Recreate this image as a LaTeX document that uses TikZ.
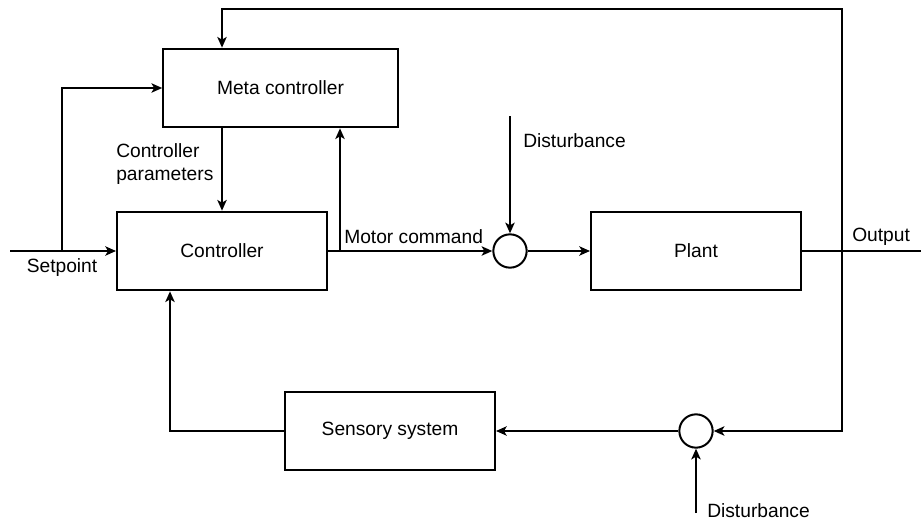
\documentclass[tikz,border=0pt]{standalone}
\usepackage{fontspec}
\setmainfont{Liberation Sans}
\usetikzlibrary{arrows.meta}
\begin{document}
\begin{tikzpicture}[x=0.75pt,y=-0.75pt,
  every node/.style={font=\fontsize{14.4}{17}\selectfont},
  blk/.style={draw,line width=1.5pt,minimum width=157.5pt,minimum height=59pt,inner sep=0pt},
  sumc/.style={draw,circle,line width=1.5pt,minimum size=25pt,inner sep=0pt},
  wire/.style={line width=1.5pt},
  arr/.style={wire,-{Stealth[length=8pt,width=7pt,inset=2pt]}},
  lbl/.style={inner sep=0pt}
]
\useasboundingbox (0,0) rectangle (921,521);
% blocks
\node[blk,minimum width=176pt] (meta) at (280.5,88) {Meta controller};
\node[blk] (ctrl) at (222,251) {Controller};
\node[blk] (plant) at (696,251) {Plant};
\node[blk] (sens) at (390,431) {Sensory system};
\node[sumc] (s1) at (510,251) {};
\node[sumc] (s2) at (696,431) {};
% coordinates
\coordinate (spin) at (10,251);
\coordinate (spb) at (62,251);
\coordinate (spu) at (62,88);
\coordinate (mb) at (340,251);
\coordinate (d1) at (510,116);
\coordinate (out) at (921,251);
\coordinate (ob) at (842,251);
\coordinate (otop) at (842,9);
\coordinate (mtop) at (222,9);
\coordinate (obot) at (842,431);
\coordinate (fb) at (170,431);
\coordinate (d2) at (696,513);
% labels
\node[lbl] (lsp) at (62,268) {Setpoint};
\node[lbl,anchor=west,align=left] (lcp) at (116,164) {Controller\\parameters};
\node[lbl,anchor=west] (lmc) at (344,237) {Motor command};
\node[lbl,anchor=west] (ld1) at (523,141) {Disturbance};
\node[lbl,anchor=west] (lout) at (852,237) {Output};
\node[lbl,anchor=west] (ld2) at (707,511) {Disturbance};
% connectors
\draw[arr] (spin) -- (ctrl.west);
\draw[arr] (spb) -- (spu) -- (meta.west);
\draw[arr] (meta.south -| mtop) -- (ctrl.north -| mtop);
\draw[arr] (ctrl.east) -- (s1.west);
\draw[arr] (mb) -- (meta.south -| mb);
\draw[arr] (d1) -- (s1.north);
\draw[arr] (s1.east) -- (plant.west);
\draw[wire] (plant.east) -- (out);
\draw[arr] (ob) -- (otop) -- (mtop) -- (meta.north -| mtop);
\draw[arr] (ob) -- (obot) -- (s2.east);
\draw[arr] (s2.west) -- (sens.east);
\draw[arr] (sens.west) -- (fb) -- (ctrl.south -| fb);
\draw[arr] (d2) -- (s2.south);
\end{tikzpicture}
\end{document}
